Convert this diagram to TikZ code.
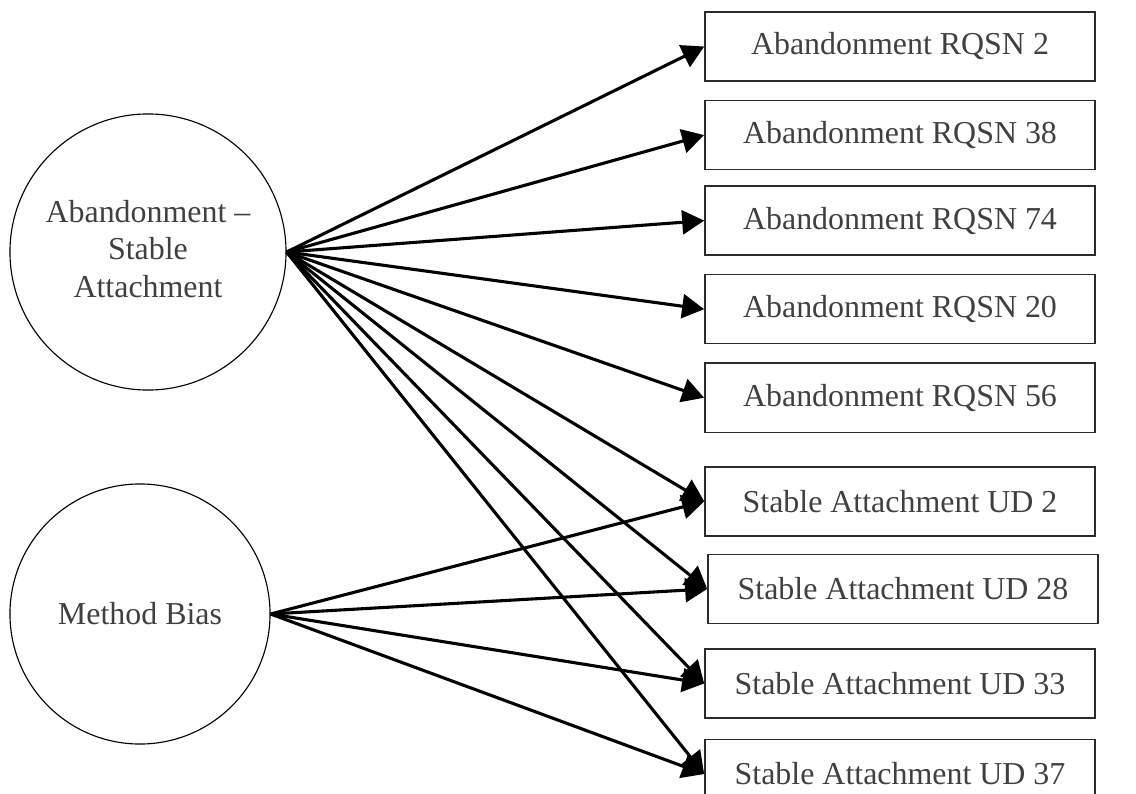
\documentclass[tikz,border=0pt]{standalone}
\usepackage{fontspec}
\setmainfont{Liberation Serif}
\usetikzlibrary{positioning}
\usetikzlibrary{arrows.meta}

\definecolor{txtgray}{HTML}{404040}
\definecolor{boxgray}{HTML}{2B2B2B}

\begin{document}
\begin{tikzpicture}[
x=0.025cm, y=-0.025cm,
every node/.style={font=\fontsize{22.7}{26.6}\selectfont},
latentnode/.style={circle, draw, line width=0.8pt, text=txtgray, align=center, inner sep=0pt},
itembox/.style={rectangle, draw=boxgray, line width=1.1pt, minimum width=9.75cm, minimum height=1.725cm, text=txtgray, inner sep=0pt},
edge/.style={-{Triangle[length=5.5mm,width=6mm]}, line width=2.2pt}
]
\useasboundingbox (0,0) rectangle (1136,794);

%Nodes
\node[latentnode, minimum size=6.9cm]  (lat1) at (148,252)  {Abandonment –\\Stable\\Attachment\vphantom{g}};
\node[latentnode, minimum size=6.5cm]  (lat2) at (140,614)  {Method Bias};

\node[itembox]  (a1)  at (900,46.5)                          {Abandonment RQSN 2};
\node[itembox]  (a2)  [below=0.45cm of a1]                   {Abandonment RQSN 38};
\node[itembox]  (a3)  [below=0.375cm of a2]                  {Abandonment RQSN 74};
\node[itembox]  (a4)  [below=0.45cm of a3]                   {Abandonment RQSN 20};
\node[itembox]  (a5)  [below=0.45cm of a4]                   {Abandonment RQSN 56};

\node[itembox]  (s1)  [below=0.825cm of a5]                  {Stable Attachment UD 2};
\node[itembox]  (s2)  [below=0.425cm of s1, xshift=0.075cm]  {Stable Attachment UD 28};
\node[itembox]  (s3)  [below=0.6cm of s2, xshift=-0.075cm]   {Stable Attachment UD 33};
\node[itembox]  (s4)  [below=0.5cm of s3]                    {Stable Attachment UD 37};

%Lines
\draw[edge] (lat1.east) -- (a1.west);
\draw[edge] (lat1.east) -- (a2.west);
\draw[edge] (lat1.east) -- (a3.west);
\draw[edge] (lat1.east) -- (a4.west);
\draw[edge] (lat1.east) -- (a5.west);
\draw[edge] (lat1.east) -- (s1.west);
\draw[edge] (lat1.east) -- (s2.west);
\draw[edge] (lat1.east) -- (s3.west);
\draw[edge] (lat1.east) -- (s4.west);

\draw[edge] (lat2.east) -- (s1.west);
\draw[edge] (lat2.east) -- (s2.west);
\draw[edge] (lat2.east) -- (s3.west);
\draw[edge] (lat2.east) -- (s4.west);

\end{tikzpicture}
\end{document}
